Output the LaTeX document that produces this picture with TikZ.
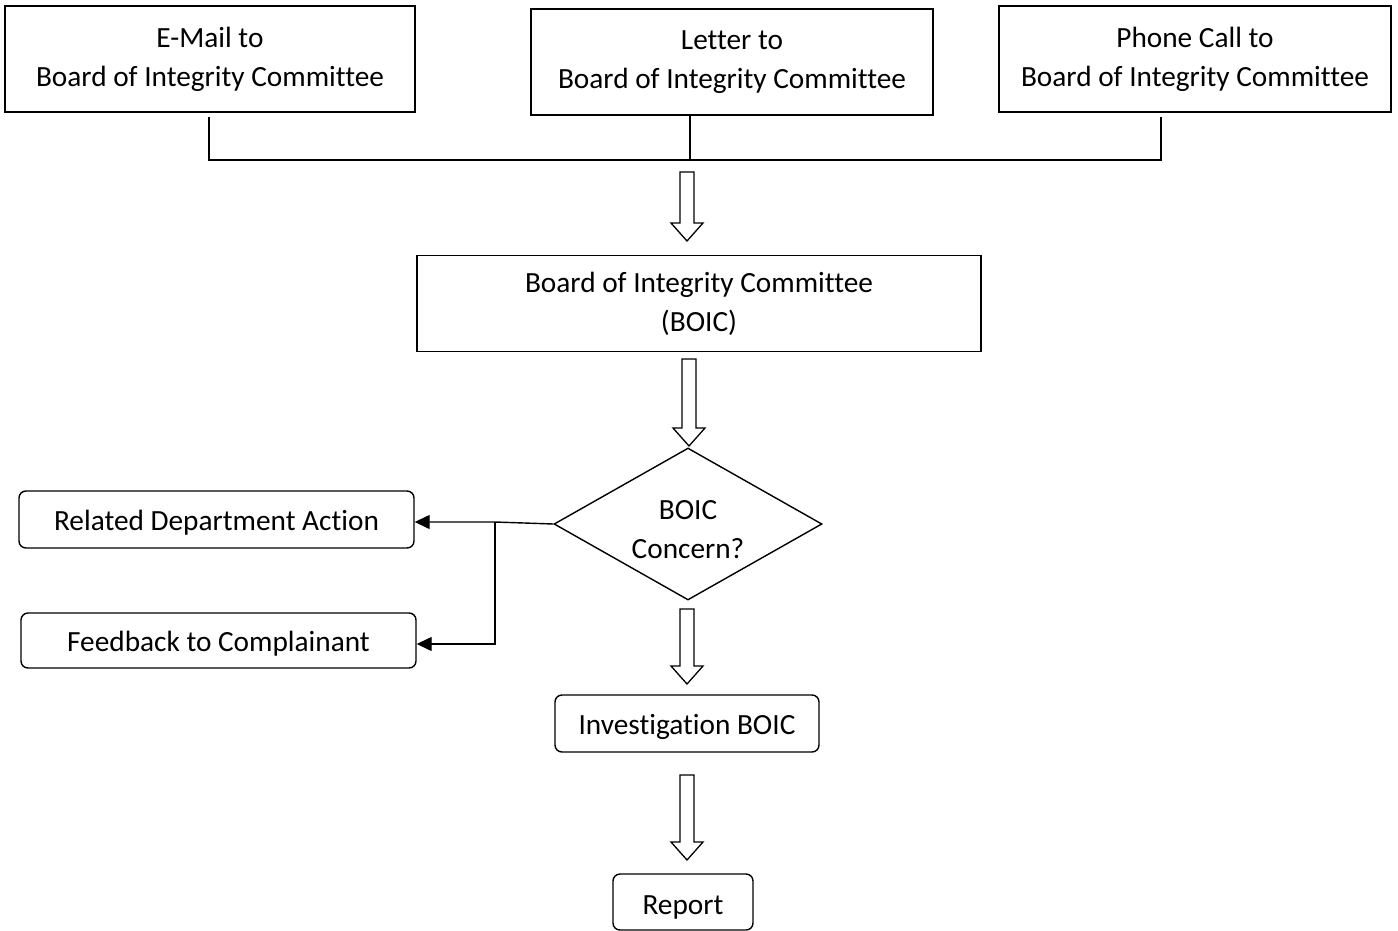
\documentclass[tikz,border=0pt]{standalone}
\usepackage{fontspec}
\setmainfont{Carlito}[Ligatures=CommonOff]
\usetikzlibrary{shapes.geometric,arrows.meta}
\begin{document}
\begin{tikzpicture}[x=1pt,y=-1pt,
  txt/.style={inner sep=0pt,align=center,font=\fontsize{29.3}{39}\selectfont},
  box/.style={txt,draw,line width=1.4pt},
  rbox/.style={box,rounded corners=7pt,text height=24pt,text depth=3pt},
  link/.style={line width=1.4pt},
  arr/.style={line width=1.4pt,-{Triangle[length=15pt,width=14pt]}},
  hollow/.style={draw,line width=1.3pt,fill=white,line join=miter}]
\useasboundingbox (0,0) rectangle (1398,930);
\newcommand\harrow[3]{\draw[hollow] (#1-7,#2) -- (#1+7,#2) -- (#1+7,#3-18) -- (#1+16,#3-18) -- (#1,#3) -- (#1-16,#3-18) -- (#1-7,#3-18) -- cycle;}
% top boxes
\node[box,minimum width=410,minimum height=106] (email) at (210,59) {E-Mail to\\Board of Integrity Committee};
\node[box,minimum width=402,minimum height=106] (letter) at (732,62) {Letter to\\Board of Integrity Committee};
\node[box,minimum width=392,minimum height=106] (phone) at (1195,59) {Phone Call to\\Board of Integrity Committee};
\coordinate (jl) at (209,160);
\coordinate (jm) at (690,160);
\coordinate (jr) at (1161,160);
\draw[link] (209,117) -- (jl) -- (jr) -- (1161,117);
\draw[link] (jm) -- (690,115);
% BOIC
\node[box,minimum width=564,minimum height=96] (boic) at (699,303.5) {Board of Integrity Committee\\(BOIC)};
\harrow{687}{172}{241}
% diamond
\node[draw,line width=1.4pt,diamond,minimum width=268,minimum height=152,inner sep=0pt] (dec) at (688,524) {};
\node[txt] (dectxt) at ([yshift=-6pt]dec.center) {BOIC\\Concern?};
\harrow{689}{359}{446}
% left boxes
\node[rbox,minimum width=395,minimum height=57] (rel) at (216.5,519.5) {Related Department Action};
\node[rbox,minimum width=395,minimum height=55] (fb) at (218.5,640.5) {Feedback to Complainant};
\coordinate (jd) at (495,522);
\draw[arr] (dec.west) -- (jd) -- (rel.east |- jd);
\coordinate (jd2) at (495,644);
\draw[arr] (jd) -- (jd2) -- (fb.east |- jd2);
% investigation
\node[rbox,minimum width=264,minimum height=57] (inv) at (687,723.5) {Investigation BOIC};
\harrow{687}{609}{684}
% report
\node[rbox,minimum width=140,minimum height=56,text height=28pt] (rep) at (683,902) {Report};
\harrow{687}{775}{860}
\end{tikzpicture}
\end{document}
